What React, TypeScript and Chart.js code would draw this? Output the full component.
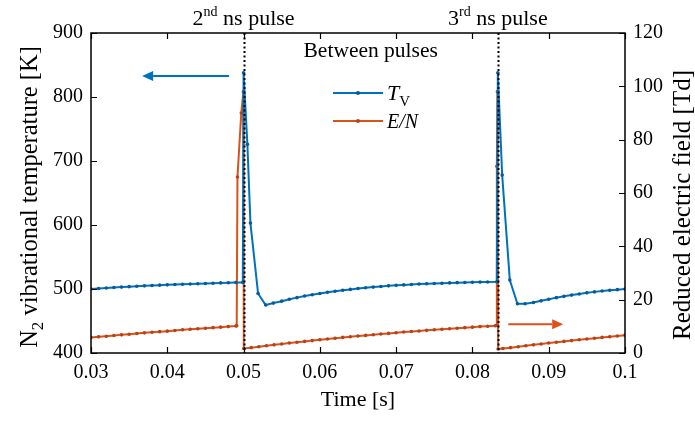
import React, { useEffect, useRef } from "react";
import { Chart, registerables } from "chart.js";

Chart.register(...registerables);

const FONT = "'Liberation Serif', 'Times New Roman', serif";
const BLUE = "#0072BD";
const RED = "#D95319";
const BLUE_DOT = "#0a5a96";
const RED_DOT = "#b5431a";

// ---- data ----
const tvTime = [
  0.030, 0.031, 0.032, 0.033, 0.034, 0.035, 0.036, 0.037, 0.038, 0.039,
  0.040, 0.041, 0.042, 0.043, 0.044, 0.045, 0.046, 0.047, 0.048, 0.049, 0.0499,
  0.0500, 0.0505, 0.0509, 0.0519, 0.0529, 0.0539,
  0.055, 0.056, 0.057, 0.058, 0.059, 0.060, 0.061, 0.062, 0.063, 0.064,
  0.065, 0.066, 0.067, 0.068, 0.069, 0.070, 0.071, 0.072, 0.073, 0.074,
  0.075, 0.076, 0.077, 0.078, 0.079, 0.080, 0.081, 0.082, 0.0832,
  0.08333, 0.0839, 0.0849, 0.0859, 0.0869,
  0.088, 0.089, 0.090, 0.091, 0.092, 0.093, 0.094, 0.095, 0.096, 0.097,
  0.098, 0.099, 0.100,
];
const tvValues = [
  500.0, 500.8, 501.6, 502.3, 503.0, 503.7, 504.3, 504.9, 505.5, 506.0,
  506.5, 507.0, 507.5, 507.9, 508.3, 508.7, 509.1, 509.5, 509.8, 510.1, 510.3,
  838, 726, 603, 493, 475, 478,
  481, 484, 486.5, 489, 491, 493, 494.8, 496.5, 498, 499.4,
  500.7, 501.9, 503, 504, 504.9, 505.7, 506.4, 507.1, 507.7, 508.2,
  508.7, 509.1, 509.5, 509.9, 510.2, 510.5, 510.8, 511.0, 511.2,
  838, 678, 514, 477, 477,
  479, 481.5, 484, 486.5, 488.5, 490.5, 492.3, 494, 495.5, 496.8,
  498, 499, 500,
];

const enTime = [
  0.030, 0.031, 0.032, 0.033, 0.034, 0.035, 0.036, 0.037, 0.038, 0.039,
  0.040, 0.041, 0.042, 0.043, 0.044, 0.045, 0.046, 0.047, 0.048, 0.049,
  0.0491, 0.0492, 0.0497, 0.04998, 0.05003,
  0.051, 0.052, 0.053, 0.054, 0.055, 0.056, 0.057, 0.058, 0.059, 0.060,
  0.061, 0.062, 0.063, 0.064, 0.065, 0.066, 0.067, 0.068, 0.069, 0.070,
  0.071, 0.072, 0.073, 0.074, 0.075, 0.076, 0.077, 0.078, 0.079, 0.080,
  0.081, 0.082, 0.083,
  0.0831, 0.0832, 0.08328, 0.08337,
  0.084, 0.085, 0.086, 0.087, 0.088, 0.089, 0.090, 0.091, 0.092, 0.093,
  0.094, 0.095, 0.096, 0.097, 0.098, 0.099, 0.100,
];
const enValues = [
  5.8, 6.05, 6.3, 6.55, 6.8, 7.05, 7.3, 7.55, 7.8, 8.0,
  8.2, 8.45, 8.7, 8.9, 9.1, 9.3, 9.5, 9.7, 9.9, 10.1,
  10.2, 66, 90, 98, 1.7,
  2.0, 2.35, 2.7, 3.05, 3.4, 3.75, 4.05, 4.35, 4.65, 4.95,
  5.25, 5.55, 5.85, 6.1, 6.35, 6.6, 6.85, 7.1, 7.35, 7.6,
  7.85, 8.05, 8.25, 8.5, 8.7, 8.9, 9.1, 9.3, 9.5, 9.7,
  9.9, 10.05, 10.2,
  10.3, 70, 98, 1.5,
  1.7, 2.0, 2.35, 2.7, 3.05, 3.4, 3.75, 4.05, 4.35, 4.65,
  4.95, 5.25, 5.55, 5.85, 6.1, 6.4, 6.7,
];

const xTicks = [0.03, 0.04, 0.05, 0.06, 0.07, 0.08, 0.09, 0.1];
const xTickLabels = ["0.03", "0.04", "0.05", "0.06", "0.07", "0.08", "0.09", "0.1"];
const leftTicks = [400, 500, 600, 700, 800, 900];
const rightTicks = [0, 20, 40, 60, 80, 100, 120];
const pulseTimes = [0.05, 0.08333];
const pulseLabels = [
  { num: "2", sup: "nd", rest: " ns pulse" },
  { num: "3", sup: "rd", rest: " ns pulse" },
];
const betweenLabel = "Between pulses";
const xTitle = "Time [s]";
const rightTitle = "Reduced electric field [Td]";
// annotation arrows in data units
const blueArrow = { tail: 0.0481, tip: 0.0367, level: 833 };
const redArrow = { tail: 0.0847, tip: 0.0919, level: 10.8 };

function drawParts(
  ctx: CanvasRenderingContext2D,
  parts: { text: string; size: number; dy: number; italic?: boolean }[],
  cx: number,
  baseY: number
) {
  let total = 0;
  const widths = parts.map((p) => {
    ctx.font = `${p.italic ? "italic " : ""}${p.size}px ${FONT}`;
    const w = ctx.measureText(p.text).width;
    total += w;
    return w;
  });
  let x = cx - total / 2;
  parts.forEach((p, i) => {
    ctx.font = `${p.italic ? "italic " : ""}${p.size}px ${FONT}`;
    ctx.fillText(p.text, x, baseY + p.dy);
    x += widths[i];
  });
}

function drawArrow(ctx: CanvasRenderingContext2D, x0: number, x1: number, y: number, color: string) {
  const dir = Math.sign(x1 - x0);
  const hl = 11;
  const hw = 5;
  ctx.strokeStyle = color;
  ctx.fillStyle = color;
  ctx.lineWidth = 2;
  ctx.beginPath();
  ctx.moveTo(x0, y);
  ctx.lineTo(x1 - dir * hl, y);
  ctx.stroke();
  ctx.beginPath();
  ctx.moveTo(x1, y);
  ctx.lineTo(x1 - dir * hl, y - hw);
  ctx.lineTo(x1 - dir * hl, y + hw);
  ctx.closePath();
  ctx.fill();
}

const decor = {
  id: "decor",
  afterDatasetsDraw(chart: any) {
    const { ctx, chartArea: a, scales } = chart;
    const sx = scales.x;
    const yl = scales.y;
    const yr = scales.y1;
    ctx.save();

    // dotted pulse lines
    ctx.strokeStyle = "#000";
    ctx.lineWidth = 2;
    ctx.setLineDash([2, 2.5]);
    pulseTimes.forEach((t) => {
      const px = Math.round(sx.getPixelForValue(t)) + 0.5;
      ctx.beginPath();
      ctx.moveTo(px, a.top);
      ctx.lineTo(px, a.bottom);
      ctx.stroke();
    });
    ctx.setLineDash([]);

    // axes box
    ctx.strokeStyle = "#000";
    ctx.lineWidth = 1.5;
    ctx.strokeRect(a.left, a.top, a.right - a.left, a.bottom - a.top);

    // tick marks (inward)
    const tl = 6;
    ctx.lineWidth = 1.2;
    ctx.beginPath();
    xTicks.forEach((v) => {
      const px = Math.round(sx.getPixelForValue(v)) + 0.5;
      ctx.moveTo(px, a.bottom);
      ctx.lineTo(px, a.bottom - tl);
      ctx.moveTo(px, a.top);
      ctx.lineTo(px, a.top + tl);
    });
    leftTicks.forEach((v) => {
      const py = Math.round(yl.getPixelForValue(v)) + 0.5;
      ctx.moveTo(a.left, py);
      ctx.lineTo(a.left + tl, py);
    });
    rightTicks.forEach((v) => {
      const py = Math.round(yr.getPixelForValue(v)) + 0.5;
      ctx.moveTo(a.right, py);
      ctx.lineTo(a.right - tl, py);
    });
    ctx.stroke();

    // arrows
    drawArrow(
      ctx,
      sx.getPixelForValue(blueArrow.tail),
      sx.getPixelForValue(blueArrow.tip),
      yl.getPixelForValue(blueArrow.level),
      BLUE
    );
    drawArrow(
      ctx,
      sx.getPixelForValue(redArrow.tail),
      sx.getPixelForValue(redArrow.tip),
      yr.getPixelForValue(redArrow.level),
      RED
    );

    // legend
    const lx0 = a.left + 242;
    const lx1 = a.left + 292;
    const rows = [
      { y: a.top + 60, color: BLUE, dot: BLUE_DOT },
      { y: a.top + 88, color: RED, dot: RED_DOT },
    ];
    rows.forEach((r) => {
      ctx.strokeStyle = r.color;
      ctx.lineWidth = 2;
      ctx.beginPath();
      ctx.moveTo(lx0, r.y);
      ctx.lineTo(lx1, r.y);
      ctx.stroke();
      ctx.fillStyle = r.dot;
      ctx.beginPath();
      ctx.arc((lx0 + lx1) / 2, r.y, 2, 0, Math.PI * 2);
      ctx.fill();
    });
    ctx.fillStyle = "#000";
    ctx.textBaseline = "alphabetic";
    ctx.textAlign = "left";
    const tx = lx1 + 4;
    ctx.font = `italic 22px ${FONT}`;
    ctx.fillText("T", tx, rows[0].y + 7);
    const tw = ctx.measureText("T").width;
    ctx.font = `15px ${FONT}`;
    ctx.fillText("V", tx + tw, rows[0].y + 13);
    ctx.font = `italic 20px ${FONT}`;
    ctx.fillText("E/N", tx, rows[1].y + 7);

    // top labels
    ctx.fillStyle = "#000";
    ctx.textAlign = "left";
    pulseLabels.forEach((p, i) => {
      const cx = sx.getPixelForValue(pulseTimes[i]);
      drawParts(
        ctx,
        [
          { text: p.num, size: 22, dy: 0 },
          { text: p.sup, size: 14, dy: -9 },
          { text: p.rest, size: 22, dy: 0 },
        ],
        cx,
        a.top - 8
      );
    });
    const midX = (sx.getPixelForValue(pulseTimes[0]) + sx.getPixelForValue(pulseTimes[1])) / 2;
    drawParts(ctx, [{ text: betweenLabel, size: 21.5, dy: 0 }], midX, a.top + 24);

    // x title
    drawParts(ctx, [{ text: xTitle, size: 22, dy: 0 }], (a.left + a.right) / 2, a.bottom + 53);

    // left title (rotated)
    const cy = (a.top + a.bottom) / 2;
    ctx.save();
    ctx.translate(a.left - 54, cy + 4);
    ctx.rotate(-Math.PI / 2);
    drawParts(
      ctx,
      [
        { text: "N", size: 24.5, dy: 0 },
        { text: "2", size: 17, dy: 6 },
        { text: " vibrational temperature [K]", size: 24.5, dy: 0 },
      ],
      0,
      0
    );
    ctx.restore();

    // right title (rotated)
    ctx.save();
    ctx.translate(a.right + 65, cy + 12);
    ctx.rotate(-Math.PI / 2);
    drawParts(ctx, [{ text: rightTitle, size: 25, dy: 0 }], 0, 0);
    ctx.restore();

    ctx.restore();
  },
};

export default function App() {
  const ref = useRef<HTMLCanvasElement | null>(null);

  useEffect(() => {
    if (!ref.current) return;
    const tickFont = { family: FONT, size: 20 };
    const chart = new Chart(ref.current, {
      type: "line",
      data: {
        datasets: [
          {
            label: "T_V",
            data: tvTime.map((t, i) => ({ x: t, y: tvValues[i] })),
            yAxisID: "y",
            borderColor: BLUE,
            backgroundColor: BLUE_DOT,
            borderWidth: 2,
            pointRadius: 1.8,
            pointBorderWidth: 0,
            pointBackgroundColor: BLUE_DOT,
            tension: 0,
            order: 1,
          },
          {
            label: "E/N",
            data: enTime.map((t, i) => ({ x: t, y: enValues[i] })),
            yAxisID: "y1",
            borderColor: RED,
            backgroundColor: RED_DOT,
            borderWidth: 2,
            pointRadius: 1.8,
            pointBorderWidth: 0,
            pointBackgroundColor: RED_DOT,
            tension: 0,
            order: 2,
          },
        ],
      },
      options: {
        responsive: false,
        animation: false,
        devicePixelRatio: 1,
        events: [],
        layout: { padding: { top: 33, left: 0, right: 0, bottom: 0 } },
        plugins: {
          legend: { display: false },
          tooltip: { enabled: false },
        },
        scales: {
          x: {
            type: "linear",
            min: 0.03,
            max: 0.1,
            afterBuildTicks: (s: any) => {
              s.ticks = xTicks.map((v) => ({ value: v }));
            },
            afterFit: (s: any) => {
              s.height = 68;
            },
            grid: { display: false, drawTicks: false },
            border: { display: false },
            ticks: {
              autoSkip: false,
              maxRotation: 0,
              padding: 8,
              color: "#000",
              font: tickFont,
              callback: (_v: any, i: number) => xTickLabels[i],
            },
          },
          y: {
            type: "linear",
            position: "left",
            min: 400,
            max: 900,
            afterBuildTicks: (s: any) => {
              s.ticks = leftTicks.map((v) => ({ value: v }));
            },
            afterFit: (s: any) => {
              s.width = 91;
            },
            grid: { display: false, drawTicks: false },
            border: { display: false },
            ticks: {
              padding: 8,
              color: "#000",
              font: tickFont,
              callback: (v: any) => String(v),
            },
          },
          y1: {
            type: "linear",
            position: "right",
            min: 0,
            max: 120,
            afterBuildTicks: (s: any) => {
              s.ticks = rightTicks.map((v) => ({ value: v }));
            },
            afterFit: (s: any) => {
              s.width = 70;
            },
            grid: { display: false, drawTicks: false },
            border: { display: false },
            ticks: {
              padding: 8,
              color: "#000",
              font: tickFont,
              callback: (v: any) => String(v),
            },
          },
        },
      },
      plugins: [decor],
    });
    return () => chart.destroy();
  }, []);

  return (
    <div style={{ position: "absolute", left: 0, top: 0, width: 695, height: 421, background: "#fff" }}>
      <canvas ref={ref} width={695} height={421} style={{ display: "block", width: 695, height: 421 }} />
    </div>
  );
}
